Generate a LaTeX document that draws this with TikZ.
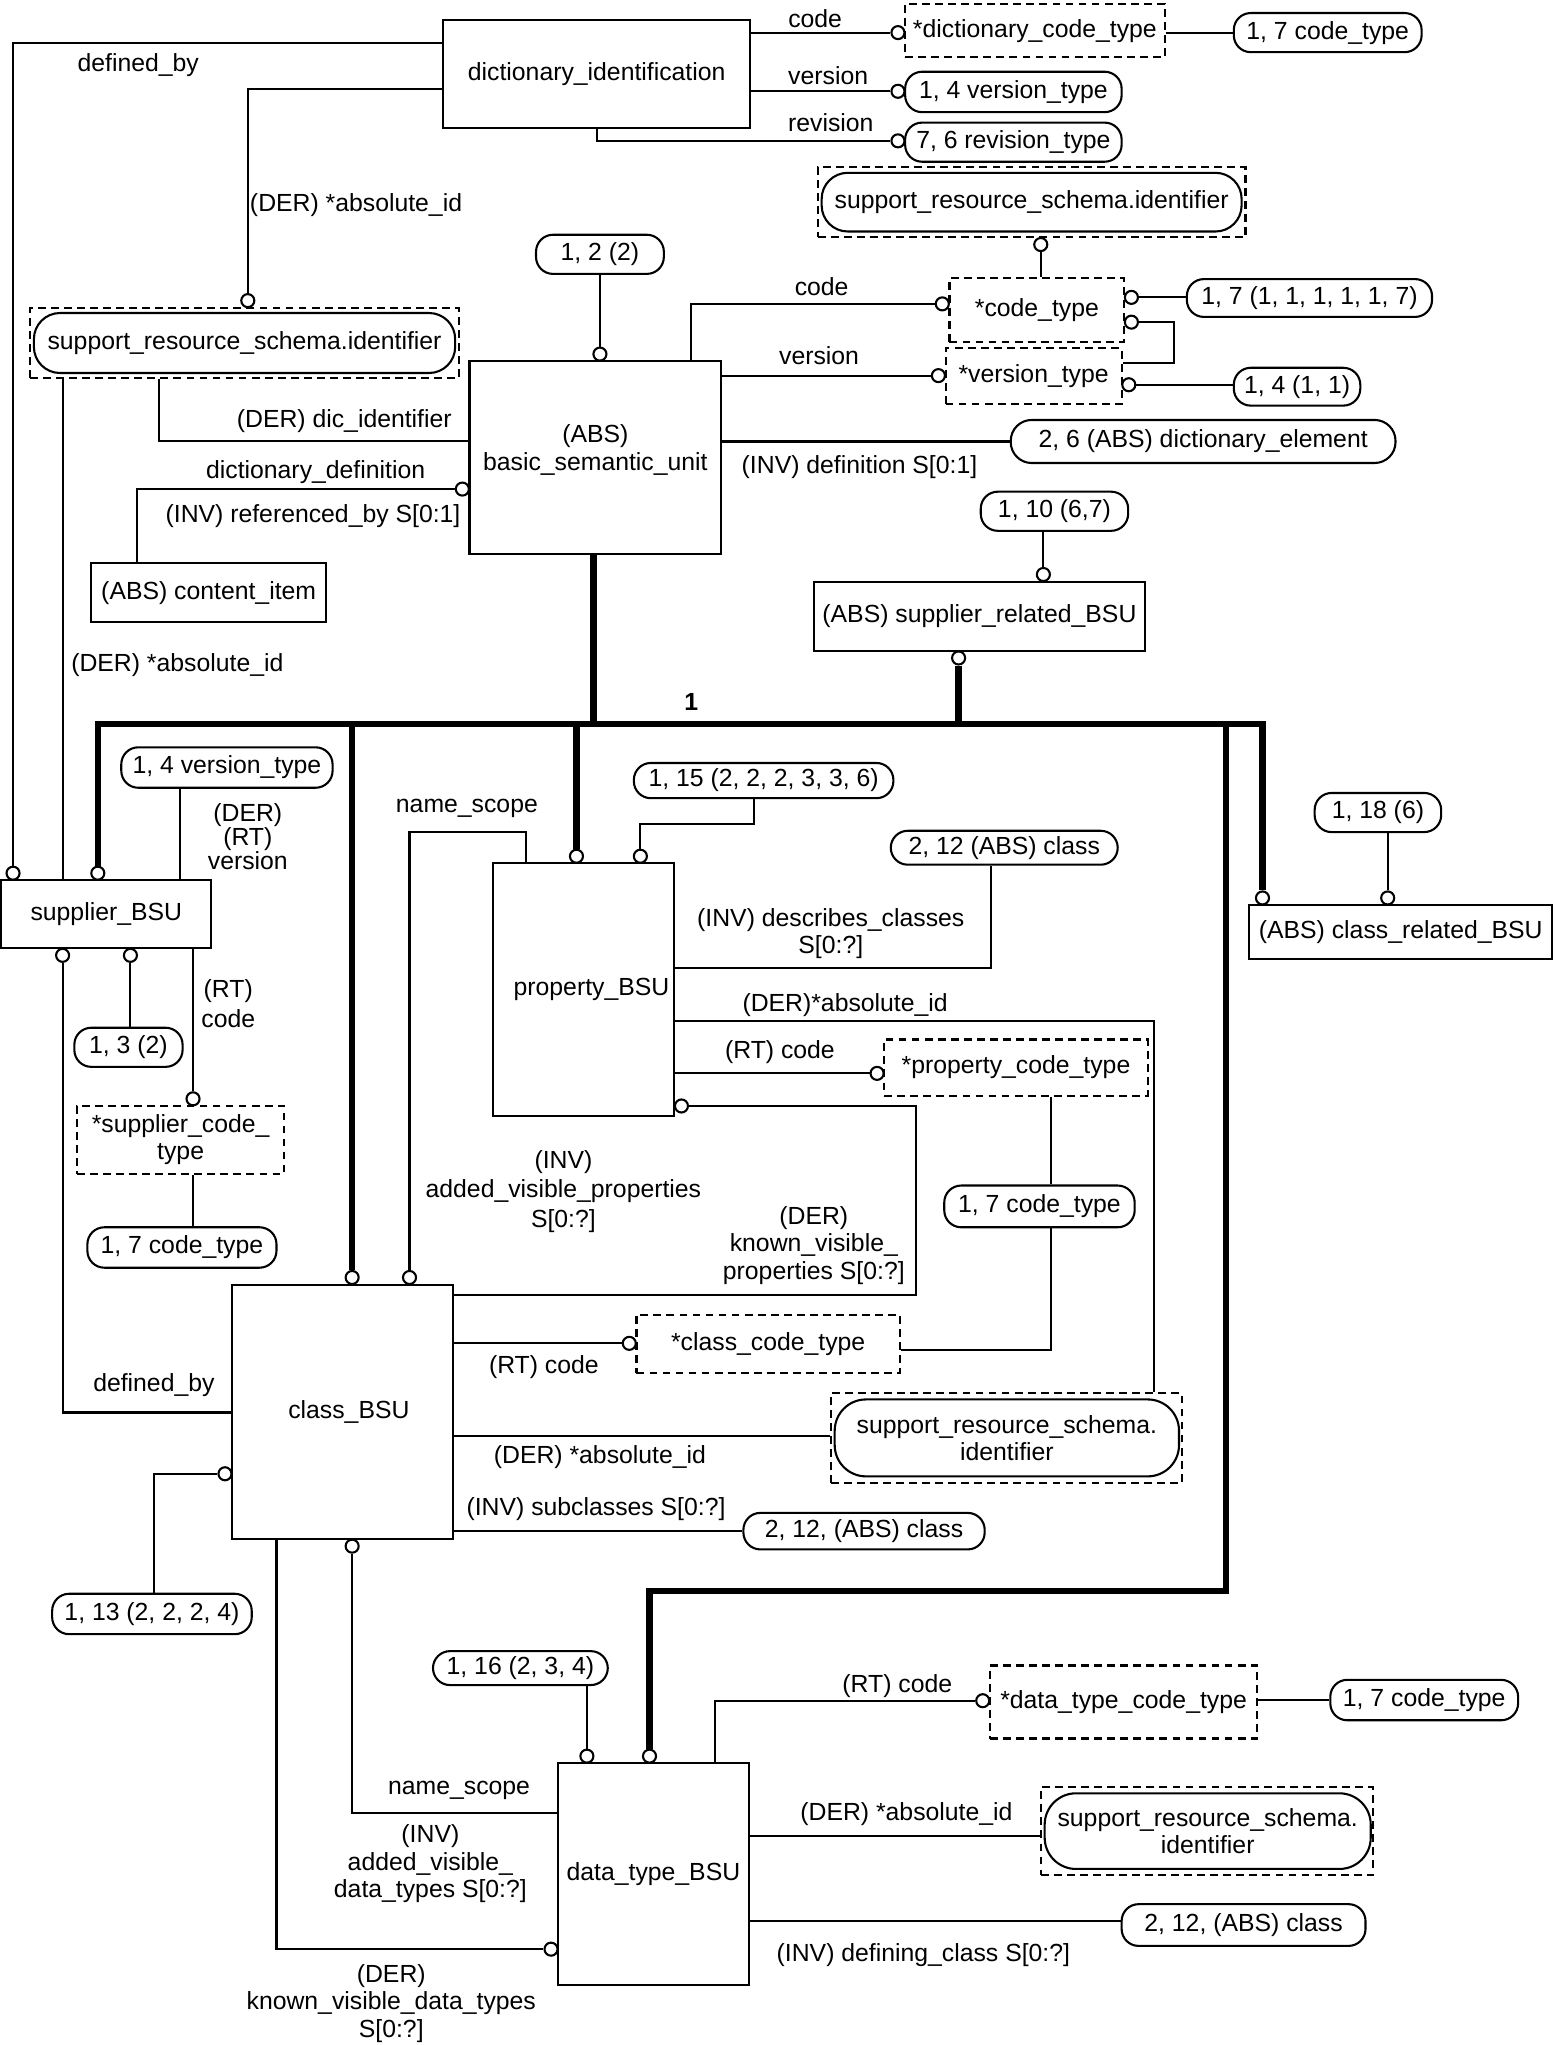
\documentclass[tikz,border=0pt]{standalone}
\usepackage{fontspec}
\setmainfont{Liberation Sans}
\usetikzlibrary{calc}
\begin{document}
\begin{tikzpicture}[x=1pt,y=-1pt,
  every node/.style={font=\fontsize{19}{21}\selectfont},
  ent/.style={draw, line width=1.6pt, inner sep=0pt, align=center, fill=white},
  dbox/.style={draw, line width=1.6pt, dash pattern=on 6pt off 4pt, inner sep=0pt, align=center},
  rbox/.style={draw, line width=1.6pt, rounded corners=13pt, inner sep=0pt, align=center},
  oc/.style={circle, draw, line width=1.6pt, fill=white, inner sep=0pt, minimum size=10pt},
  conn/.style={line width=1.6pt},
  bus/.style={line width=5pt},
  lbl/.style={inner sep=0pt, align=center}]
\fill[white] (0,0) rectangle (1192,1568);
\useasboundingbox (0,0) rectangle (1192,1568);

% ---------- boxes ----------
\node[ent, minimum width=235pt, minimum height=83pt] (dicid) at (457.5,56.5) {dictionary\_identification};
\node[dbox, minimum width=199pt, minimum height=41pt] (dictcode) at (793.5,23.5) {*dictionary\_code\_type};
\node[rbox, minimum width=144pt, minimum height=30pt] (r17a) at (1018,25) {1, 7 code\_type};
\node[rbox, minimum width=166pt, minimum height=31pt] (r14v) at (777,70.5) {1, 4 version\_type};
\node[rbox, minimum width=166pt, minimum height=30pt] (r76) at (777,109) {7, 6 revision\_type};
\node[dbox, minimum width=328pt, minimum height=54pt] (srs1) at (791,155) {};
\node[rbox, minimum width=322pt, minimum height=45pt, rounded corners=20pt] (srs1i) at (791,155) {support\_resource\_schema.identifier};
\node[dbox, minimum width=134pt, minimum height=49pt] (codetype) at (795,237.5) {*code\_type};
\node[rbox, minimum width=188pt, minimum height=29pt] (r1711) at (1004,228.5) {1, 7 (1, 1, 1, 1, 1, 7)};
\node[dbox, minimum width=135pt, minimum height=43pt] (versiontype) at (792.5,288.5) {*version\_type};
\node[rbox, minimum width=97pt, minimum height=29pt] (r1411) at (994.5,296.5) {1, 4 (1, 1)};
\node[ent, minimum width=193pt, minimum height=148pt, label={[lbl,yshift=6pt]center:(ABS)\\basic\_semantic\_unit}] (bsu) at (456.5,351) {};
\node[rbox, minimum width=98pt, minimum height=30pt] (r122) at (460,195) {1, 2 (2)};
\node[rbox, minimum width=295pt, minimum height=33pt, rounded corners=16pt] (r26) at (922.5,338.5) {2, 6 (ABS) dictionary\_element};
\node[dbox, minimum width=329pt, minimum height=54pt] (srs2) at (187.5,263) {};
\node[rbox, minimum width=323pt, minimum height=46pt, rounded corners=20pt] (srs2i) at (187.5,263) {support\_resource\_schema.identifier};
\node[ent, minimum width=180pt, minimum height=45pt] (content) at (160,454.5) {(ABS) content\_item};
\node[ent, minimum width=254pt, minimum height=53pt] (suprel) at (751,472.5) {(ABS) supplier\_related\_BSU};
\node[rbox, minimum width=113pt, minimum height=30pt] (r110) at (808.5,392) {1, 10 (6,7)};
\node[ent, minimum width=161pt, minimum height=52pt] (supplier) at (81.5,701) {supplier\_BSU};
\node[rbox, minimum width=162pt, minimum height=31pt] (r14v2) at (174,588.5) {1, 4 version\_type};
\node[rbox, minimum width=83pt, minimum height=30pt] (r13) at (98.5,803) {1, 3 (2)};
\node[dbox, minimum width=159pt, minimum height=52pt] (supcode) at (138.5,874) {*supplier\_code\_\\type};
\node[rbox, minimum width=145pt, minimum height=31pt] (r17b) at (139.5,956.5) {1, 7 code\_type};
\node[ent, minimum width=139pt, minimum height=194pt, label={[lbl,xshift=6pt]center:property\_BSU}] (prop) at (447.5,759) {};
\node[rbox, minimum width=199pt, minimum height=27pt] (r115) at (585.5,598.5) {1, 15 (2, 2, 2, 3, 3, 6)};
\node[rbox, minimum width=174pt, minimum height=26pt] (r212a) at (770,650) {2, 12 (ABS) class};
\node[dbox, minimum width=202pt, minimum height=43pt] (propcode) at (779,818.5) {*property\_code\_type};
\node[rbox, minimum width=146pt, minimum height=32pt] (r17c) at (797,925) {1, 7 code\_type};
\node[ent, minimum width=169pt, minimum height=195pt, label={[lbl,xshift=5pt]center:class\_BSU}] (classbsu) at (262.5,1082.5) {};
\node[dbox, minimum width=202pt, minimum height=45pt] (classcode) at (589,1030.5) {*class\_code\_type};
\node[dbox, minimum width=269pt, minimum height=69pt] (srs3) at (771.5,1102.5) {};
\node[rbox, minimum width=264pt, minimum height=59pt, rounded corners=24pt] (srs3i) at (772,1102.5) {support\_resource\_schema.\\identifier};
\node[rbox, minimum width=185pt, minimum height=28pt] (r212b) at (662.5,1174) {2, 12, (ABS) class};
\node[rbox, minimum width=153pt, minimum height=31pt] (r113) at (116.5,1237.5) {1, 13 (2, 2, 2, 4)};
\node[ent, minimum width=146pt, minimum height=170pt] (dtbsu) at (501,1437) {data\_type\_BSU};
\node[rbox, minimum width=134pt, minimum height=26pt] (r116) at (399,1279) {1, 16 (2, 3, 4)};
\node[dbox, minimum width=205pt, minimum height=56pt] (dtcode) at (861.5,1305) {*data\_type\_code\_type};
\node[rbox, minimum width=144pt, minimum height=31pt] (r17d) at (1092,1303.5) {1, 7 code\_type};
\node[dbox, minimum width=255pt, minimum height=67pt] (srs4) at (925.5,1404) {};
\node[rbox, minimum width=250pt, minimum height=58pt, rounded corners=24pt] (srs4i) at (926,1404) {support\_resource\_schema.\\identifier};
\node[rbox, minimum width=187pt, minimum height=32pt] (r212c) at (953.5,1476) {2, 12, (ABS) class};
\node[ent, minimum width=232pt, minimum height=41pt] (classrel) at (1074,714.5) {(ABS) class\_related\_BSU};
\node[rbox, minimum width=97pt, minimum height=30pt] (r118) at (1056.5,623) {1, 18 (6)};

% ---------- circles ----------
\node[oc] (cs1) at (10,669.5) {};
\node[oc] (csrs2) at (190,230.5) {};
\node[oc] (cdcode) at (688.5,25) {};
\node[oc] (cver1) at (688.5,70) {};
\node[oc] (crev) at (688.5,108) {};
\node[oc] (csrs1) at (798,187.5) {};
\node[oc] (ccode) at (722.5,233) {};
\node[oc] (cvt) at (719.5,288) {};
\node[oc] (cct1) at (867.5,228) {};
\node[oc] (cct2) at (867.5,247) {};
\node[oc] (cvt2) at (865.5,295) {};
\node[oc] (cbsu) at (460,271.5) {};
\node[oc] (cdd) at (354.5,375) {};
\node[oc] (csr) at (800,440.5) {};
\node[oc] (csr2) at (735,504.5) {};
\node[oc] (cbus1) at (75,669.5) {};
\node[oc] (cbus2) at (270,979.5) {};
\node[oc] (cbus3) at (442,656.5) {};
\node[oc] (cbus4) at (498,1346.5) {};
\node[oc] (cbus5) at (968,688.5) {};
\node[oc] (csd) at (48,732.5) {};
\node[oc] (cs13) at (100,732.5) {};
\node[oc] (csc) at (148,842.5) {};
\node[oc] (cp15) at (491,656.5) {};
\node[oc] (cns) at (314,979.5) {};
\node[oc] (cpc) at (672.5,823) {};
\node[oc] (ckvp) at (522.5,848) {};
\node[oc] (ccc) at (482.5,1030) {};
\node[oc] (cc113) at (172.5,1130) {};
\node[oc] (ccb) at (270,1185.5) {};
\node[oc] (ckvd) at (422.5,1494.5) {};
\node[oc] (cd16) at (450,1346.5) {};
\node[oc] (cdc) at (753.5,1304) {};
\node[oc] (ccr) at (1064,688.5) {};

% ---------- bus ----------
\coordinate (busL) at (75,555);
\coordinate (busR) at (968,555);
\draw[bus] (cbus1) -- (busL) -- (busR) -- (cbus5);
\draw[bus] (busL -| cbus2) -- (cbus2);
\draw[bus] (busL -| cbus3) -- (cbus3);
\draw[bus] (busL -| 940,0) -- (940,1220) -| (cbus4);
\draw[bus] (bsu.south -| 455,0) -- (busL -| 455,0);
\draw[bus] (csr2) -- (busL -| csr2);

% ---------- connectors ----------
\draw[conn] (dicid.west |- 0,33) -| (cs1);
\draw[conn] (dicid.west |- 0,68) -| (csrs2);
\draw[conn] (dicid.east |- cdcode) -- (cdcode);
\draw[conn] (dictcode.east |- r17a.west) -- (r17a.west);
\draw[conn] (dicid.east |- cver1) -- (cver1);
\draw[conn] (dicid.south) |- (crev);
\draw[conn] (csrs1) -- (codetype.north -| csrs1);
\draw[conn] (bsu.north -| 530,0) |- (ccode);
\draw[conn] (bsu.east |- cvt) -- (cvt);
\draw[conn] (cct1) -- (r1711.west |- cct1);
\draw[conn] (cct2) -- (900,247) -- (900,278) -- (versiontype.east |- 0,278);
\draw[conn] (cvt2) -- (r1411.west |- cvt2);
\draw[conn] (r122.south) -- (cbsu);
\draw[conn] (bsu.east |- r26.west) -- (r26.west);
\draw[conn] (bsu.west |- 0,338) -| (srs2.south -| 122,0);
\draw[conn] (cdd) -| (content.north -| 105,0);
\draw[conn] (srs2.south -| 48,0) -- (supplier.north -| 48,0);
\draw[conn] (csd) |- (classbsu.west |- 0,1083);
\draw[conn] (r110.south -| csr) -- (csr);
\draw[conn] (supplier.north -| 138,0) -- (r14v2.south -| 138,0);
\draw[conn] (cs13) -- (r13.north -| cs13);
\draw[conn] (supplier.south -| csc) -- (csc);
\draw[conn] (supcode.south -| 148,0) -- (r17b.north -| 148,0);
\draw[conn] (cp15) |- (578,632) -- (r115.south -| 578,0);
\draw[conn] (prop.north -| 403,0) -- (403,638) -| (cns);
\draw[conn] (prop.east |- 0,742) -| (r212a.south -| 760,0);
\draw[conn] (prop.east |- 0,783) -| (srs3.north -| 885,0);
\draw[conn] (prop.east |- cpc) -- (cpc);
\draw[conn] (ckvp) -| (702,993) -- (classbsu.east |- 0,993);
\draw[conn] (propcode.south -| 806,0) -- (r17c.north -| 806,0);
\draw[conn] (r17c.south -| 806,0) |- (classcode.east |- 0,1035);
\draw[conn] (classbsu.east |- ccc) -- (ccc);
\draw[conn] (classbsu.east |- 0,1101) -- (srs3.west |- 0,1101);
\draw[conn] (classbsu.east |- r212b.west) -- (r212b.west);
\draw[conn] (cc113) -| (r113.north -| 118,0);
\draw[conn] (ccb) |- (dtbsu.west |- 0,1390);
\draw[conn] (classbsu.south -| 212,0) |- (ckvd);
\draw[conn] (r116.south -| cd16) -- (cd16);
\draw[conn] (dtbsu.north -| 548,0) |- (cdc);
\draw[conn] (dtcode.east |- r17d.west) -- (r17d.west);
\draw[conn] (dtbsu.east |- 0,1408) -- (srs4.west |- 0,1408);
\draw[conn] (dtbsu.east |- 0,1473) -- (r212c.west |- 0,1473);
\draw[conn] (r118.south -| ccr) -- (ccr);

% ---------- labels ----------
\node[lbl] (l1) at (106,50) {defined\_by};
\node[lbl] (l2) at (273,157) {(DER) *absolute\_id};
\node[lbl] (l3) at (625,14) {code};
\node[lbl] (l4) at (635,58) {version};
\node[lbl] (l5) at (637,94) {revision};
\node[lbl] (l6) at (630,220) {code};
\node[lbl] (l7) at (628,273) {version};
\node[lbl] (l8) at (264,323) {(DER) dic\_identifier};
\node[lbl] (l9) at (242,362) {dictionary\_definition};
\node[lbl] (l10) at (240,396) {(INV) referenced\_by S[0:1]};
\node[lbl] (l11) at (659,358) {(INV) definition S[0:1]};
\node[lbl] (l12) at (136,510) {(DER) *absolute\_id};
\node[lbl, font=\fontsize{19}{21}\selectfont\bfseries] (l13) at (530,538) {1};
\node[lbl, font=\fontsize{19}{18.5}\selectfont] (l14) at (190,641.5) {(DER)\\(RT)\\version};
\node[lbl, font=\fontsize{19}{23}\selectfont] (l15) at (175,769.5) {(RT)\\code};
\node[lbl] (l16) at (358,620) {name\_scope};
\node[lbl] (l17) at (637,716) {(INV) describes\_classes\\S[0:?]};
\node[lbl] (l18) at (648,771) {(DER)*absolute\_id};
\node[lbl] (l19) at (598,807) {(RT) code};
\node[lbl, font=\fontsize{19}{22.5}\selectfont] (l20) at (432,913.5) {(INV)\\added\_visible\_properties\\S[0:?]};
\node[lbl] (l21) at (624,955) {(DER)\\known\_visible\_\\properties S[0:?]};
\node[lbl] (l22) at (417,1048) {(RT) code};
\node[lbl] (l23) at (118,1062) {defined\_by};
\node[lbl] (l24) at (460,1117) {(DER) *absolute\_id};
\node[lbl] (l25) at (457,1157) {(INV) subclasses S[0:?]};
\node[lbl] (l26) at (352,1373) {name\_scope};
\node[lbl] (l27) at (330,1429) {(INV)\\added\_visible\_\\data\_types S[0:?]};
\node[lbl] (l28) at (300,1536) {(DER)\\known\_visible\_data\_types\\S[0:?]};
\node[lbl] (l29) at (688,1293) {(RT) code};
\node[lbl] (l30) at (695,1391) {(DER) *absolute\_id};
\node[lbl] (l31) at (708,1499) {(INV) defining\_class S[0:?]};
\end{tikzpicture}
\end{document}
